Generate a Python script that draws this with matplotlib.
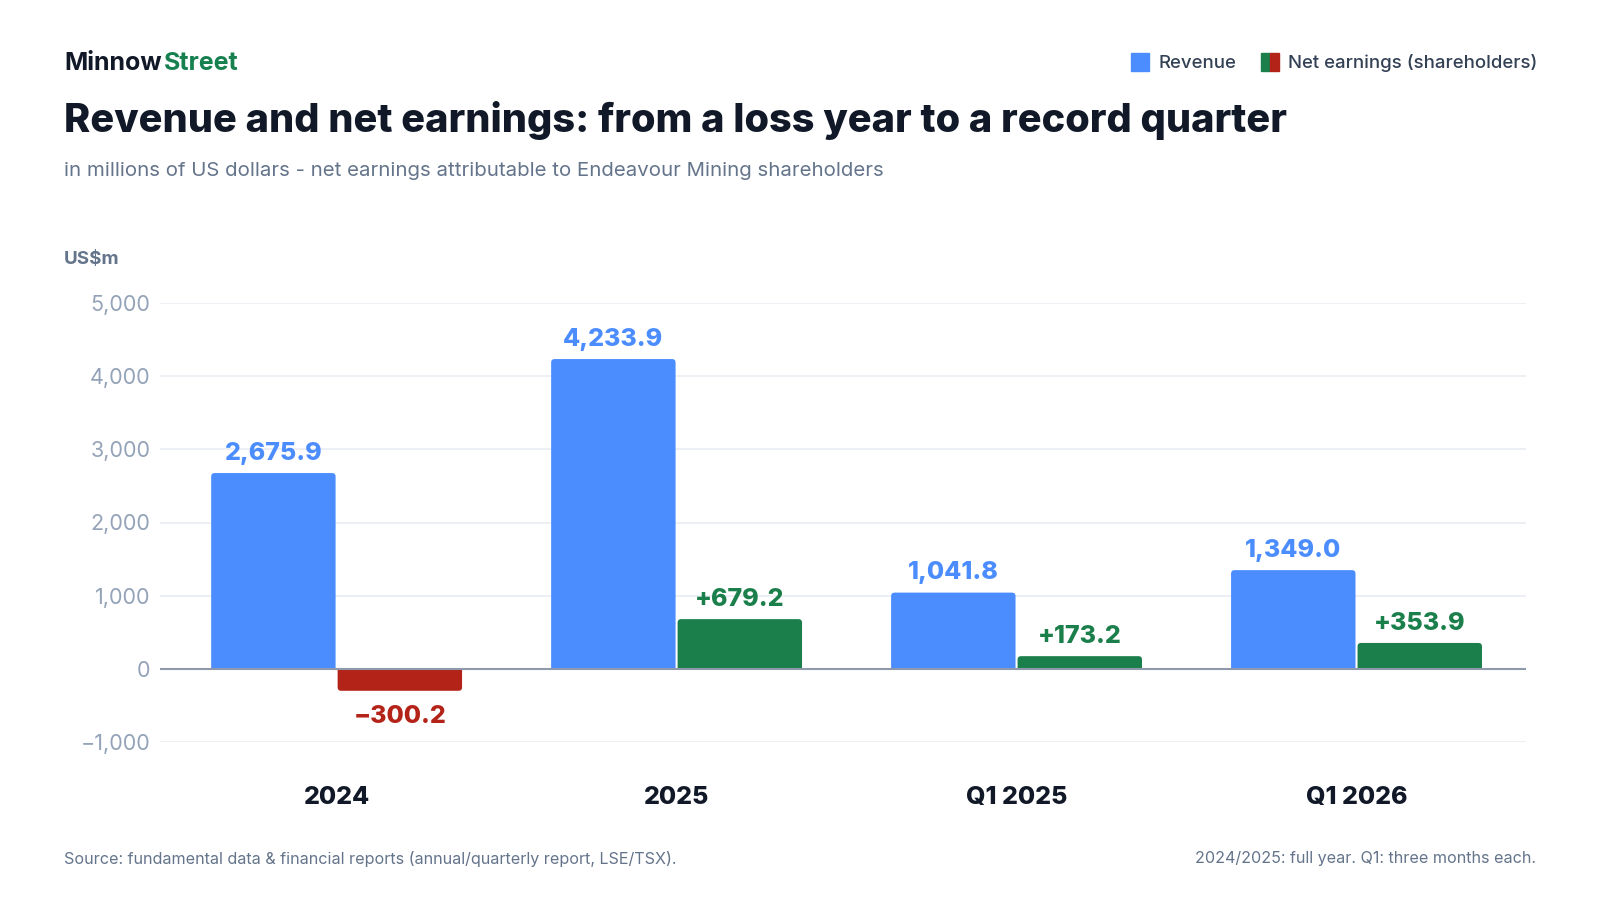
import matplotlib
matplotlib.use("Agg")
import matplotlib.pyplot as plt
from matplotlib.patches import FancyBboxPatch, Rectangle
import numpy as np

plt.rcParams['font.family'] = ['Inter', 'DejaVu Sans']

categories = ["2024", "2025", "Q1 2025", "Q1 2026"]
revenue = [2675.9, 4233.9, 1041.8, 1349.0]
net_earnings = [-300.2, 679.2, 173.2, 353.9]
yticks = [-1000, 0, 1000, 2000, 3000, 4000, 5000]

BLUE = "#4b8dff"
GREEN = "#1b7f4b"
RED = "#b42318"
DARK = "#111827"
GRAY = "#64748b"
TICK = "#94a3b8"

fig = plt.figure(figsize=(16, 9), dpi=100)
W, H = 1600, 900
ax_left, ax_w = 160, 1366
ax_top, ax_bot = 303, 742
ax = fig.add_axes([ax_left / W, 1 - ax_bot / H, ax_w / W, (ax_bot - ax_top) / H])

x = np.arange(len(categories))
bw = 0.366
off = 0.186
XMIN, XMAX = -0.5195, 3.4985
YMIN, YMAX = -1000, 5000
ax.set_xlim(XMIN, XMAX)
ax.set_ylim(YMIN, YMAX)

px_x = (XMAX - XMIN) / ax_w
px_y = (YMAX - YMIN) / (ax_bot - ax_top)
r_px = 3.5

def rounded_bar(xc, v, color):
    sign = 1 if v >= 0 else -1
    ext = 10 * px_y
    y0 = -sign * ext
    lo, hi = min(y0, v), max(y0, v)
    p = FancyBboxPatch((xc - bw / 2, lo), bw, hi - lo,
                       boxstyle=f"round,pad=0,rounding_size={r_px * px_x}",
                       mutation_aspect=px_y / px_x, facecolor=color, edgecolor="none", zorder=3)
    ax.add_patch(p)
    clip = Rectangle((xc - bw, 0 if sign > 0 else v - 1000), 2 * bw,
                     (v + 1000) if sign > 0 else (-v + 1000), transform=ax.transData)
    p.set_clip_path(clip)

for i, v in enumerate(revenue):
    rounded_bar(x[i] - off, v, BLUE)
for i, v in enumerate(net_earnings):
    rounded_bar(x[i] + off, v, GREEN if v >= 0 else RED)

LW = 800
for i, v in enumerate(revenue):
    ax.annotate(f"{v:,.1f}", (x[i] - off, v), xytext=(0, 6), textcoords="offset points",
                ha="center", va="bottom", fontsize=18, fontweight=LW, color=BLUE)
for i, v in enumerate(net_earnings):
    if v >= 0:
        ax.annotate(f"+{v:,.1f}", (x[i] + off, v), xytext=(0, 6), textcoords="offset points",
                    ha="center", va="bottom", fontsize=18, fontweight=LW, color=GREEN)
    else:
        ax.annotate(f"\u2212{abs(v):,.1f}", (x[i] + off, v), xytext=(0, -10), textcoords="offset points",
                    ha="center", va="top", fontsize=18, fontweight=LW, color=RED)

ax.set_yticks(yticks)
ax.set_yticklabels([f"{t:,}".replace("-", "\u2212") for t in yticks])
ax.set_xticks(x)
ax.set_xticklabels(categories)
ax.tick_params(axis="y", length=0, pad=7, labelsize=15.5, labelcolor=TICK)
ax.tick_params(axis="x", length=0, pad=31.5, labelsize=18, labelcolor=DARK)
for lbl in ax.get_xticklabels():
    lbl.set_fontweight(LW)
ax.grid(axis="y", color="#e9ecf1", linewidth=1.2, zorder=0)
ax.axhline(0, color="#8e99ab", linewidth=1.5, zorder=4)
for s in ax.spines.values():
    s.set_visible(False)

# Header
fig.text(64 / W, 1 - 64 / H, "Minnow", fontsize=18, fontweight="bold", color=DARK, va="center", ha="left")
fig.text(164 / W, 1 - 64 / H, "Street", fontsize=18, fontweight="bold", color="#16804f", va="center", ha="left")
fig.text(64 / W, 1 - 120 / H, "Revenue and net earnings: from a loss year to a record quarter",
         fontsize=28.6, fontweight=LW, color=DARK, va="center", ha="left")
fig.text(64 / W, 1 - 171 / H, "in millions of US dollars - net earnings attributable to Endeavour Mining shareholders",
         fontsize=14.7, color=GRAY, va="center", ha="left")
fig.text(64 / W, 1 - 259 / H, "US$m", fontsize=13.5, fontweight="bold", color=GRAY, va="center", ha="left")

# Legend
sq = 18
ly = 62
def add_sq(xpx, colors):
    n = len(colors)
    for k, c in enumerate(colors):
        r = Rectangle(((xpx + k * sq / n) / W, 1 - (ly + sq / 2) / H), (sq / n) / W, sq / H,
                      transform=fig.transFigure, color=c, zorder=5)
        fig.add_artist(r)
add_sq(1131, [BLUE])
fig.text(1158 / W, 1 - (ly + 1) / H, "Revenue", fontsize=13.4, fontweight="medium", color="#334155", va="center", ha="left")
add_sq(1261, [GREEN, RED])
fig.text(1288 / W, 1 - (ly + 1) / H, "Net earnings (shareholders)", fontsize=13.4, fontweight="medium", color="#334155", va="center", ha="left")

# Footer
fig.text(64 / W, 1 - 859 / H, "Source: fundamental data & financial reports (annual/quarterly report, LSE/TSX).",
         fontsize=11.6, color=GRAY, va="center", ha="left")
fig.text(1536 / W, 1 - 859 / H, "2024/2025: full year. Q1: three months each.",
         fontsize=11.6, color=GRAY, va="center", ha="right")

fig.savefig("out.png", dpi=100, facecolor="white")
